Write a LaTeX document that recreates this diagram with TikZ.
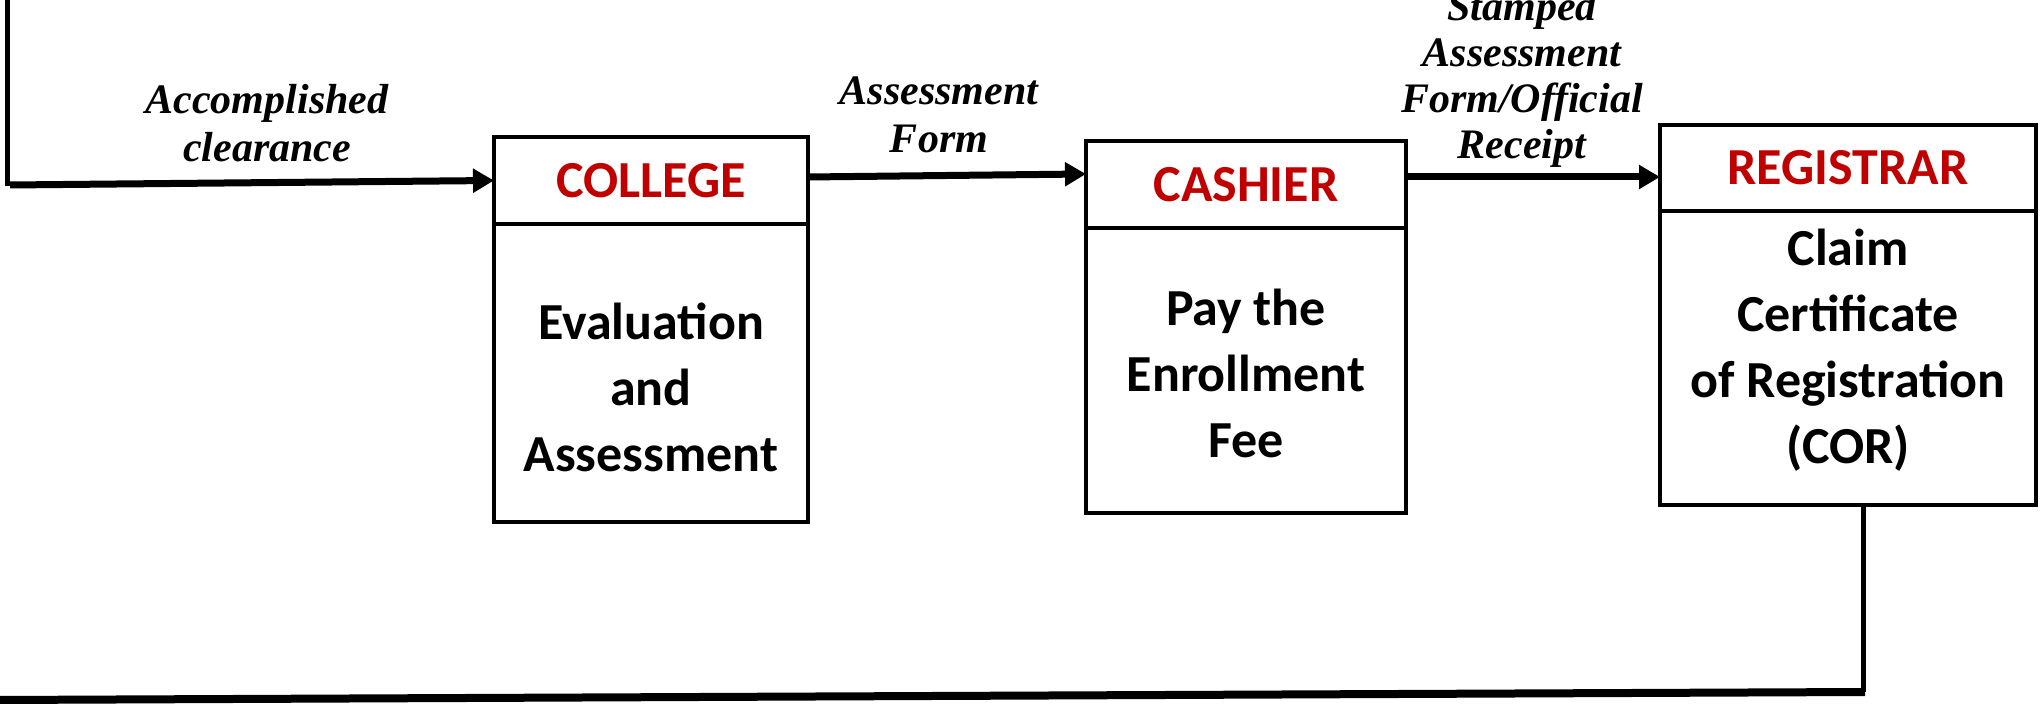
\documentclass[tikz,border=0pt]{standalone}
\usepackage{fontspec}
\setmainfont{Liberation Serif}
\newfontfamily\boxfont{Carlito}
\usetikzlibrary{arrows.meta}
\definecolor{hdred}{RGB}{192,0,0}
\begin{document}
\begin{tikzpicture}[x=0.5pt,y=-0.5pt,
  part/.style={draw=black, line width=2pt, inner sep=0pt, outer sep=0pt, anchor=north west, fill=white},
  headtxt/.style={font=\boxfont\bfseries\fontsize{26pt}{33pt}\selectfont, text=hdred},
  bodytxt/.style={font=\boxfont\bfseries\fontsize{26pt}{33pt}\selectfont, align=center, inner sep=0pt},
  lbl/.style={font=\bfseries\itshape\fontsize{21pt}{24pt}\selectfont, align=center, inner sep=0pt},
  flow/.style={line width=3.5pt, -{Triangle[length=10.5pt,width=11.5pt]}},
  wire/.style={line width=2.5pt},
  thickwire/.style={line width=4pt}
]
\useasboundingbox (0,0) rectangle (2040,704);

% boxes
\node[part, headtxt, minimum width=157pt, minimum height=43.5pt] (colh) at (494,137) {COLLEGE};
\node[part, minimum width=157pt, minimum height=149pt] (colb) at (494,224) {};
\node[part, headtxt, minimum width=160pt, minimum height=43.5pt] (cash) at (1086,141) {CASHIER};
\node[part, minimum width=160pt, minimum height=142.5pt] (casb) at (1086,228) {};
\node[part, headtxt, minimum width=188pt, minimum height=43pt] (regh) at (1660,125) {REGISTRAR};
\node[part, minimum width=188pt, minimum height=147pt] (regb) at (1660,211) {};

% body texts
\node[bodytxt] (coltxt) at (651,387) {Evaluation\\and\\Assessment};
\node[bodytxt] (castxt) at (1246,373) {Pay the\\Enrollment\\Fee};
\node[bodytxt] (regtxt) at (1848,350) {Claim\\Certificate\\of Registration\\(COR)};

% labels
\node[lbl] (l1) at (267,123) {Accomplished\\clearance};
\node[lbl] (l2) at (939,115) {Assessment\\Form};
\node[lbl, font=\bfseries\itshape\fontsize{21pt}{23pt}\selectfont] (l3) at (1522,79) {Stamped\\Assessment\\Form/Official\\Receipt};

% connectors
\coordinate (s0) at (7,0);
\coordinate (s1) at (7,186);
\coordinate (s2) at (10,185);
\draw[wire] (s0) -- (s1);
\draw[flow] (s2) -- (colh.west);
\draw[flow] ([yshift=1.75pt]colh.east) -- ([yshift=5.25pt]cash.west);
\draw[flow] ([yshift=3.75pt]cash.east) -- ([yshift=-4.5pt]regh.west);

\coordinate (e1) at (1863,692);
\coordinate (e2) at (1865,692);
\coordinate (e3) at (0,700);
\draw[wire] (e1 |- regb.south) -- (e1);
\draw[thickwire] (e2) -- (e3);
\end{tikzpicture}
\end{document}
